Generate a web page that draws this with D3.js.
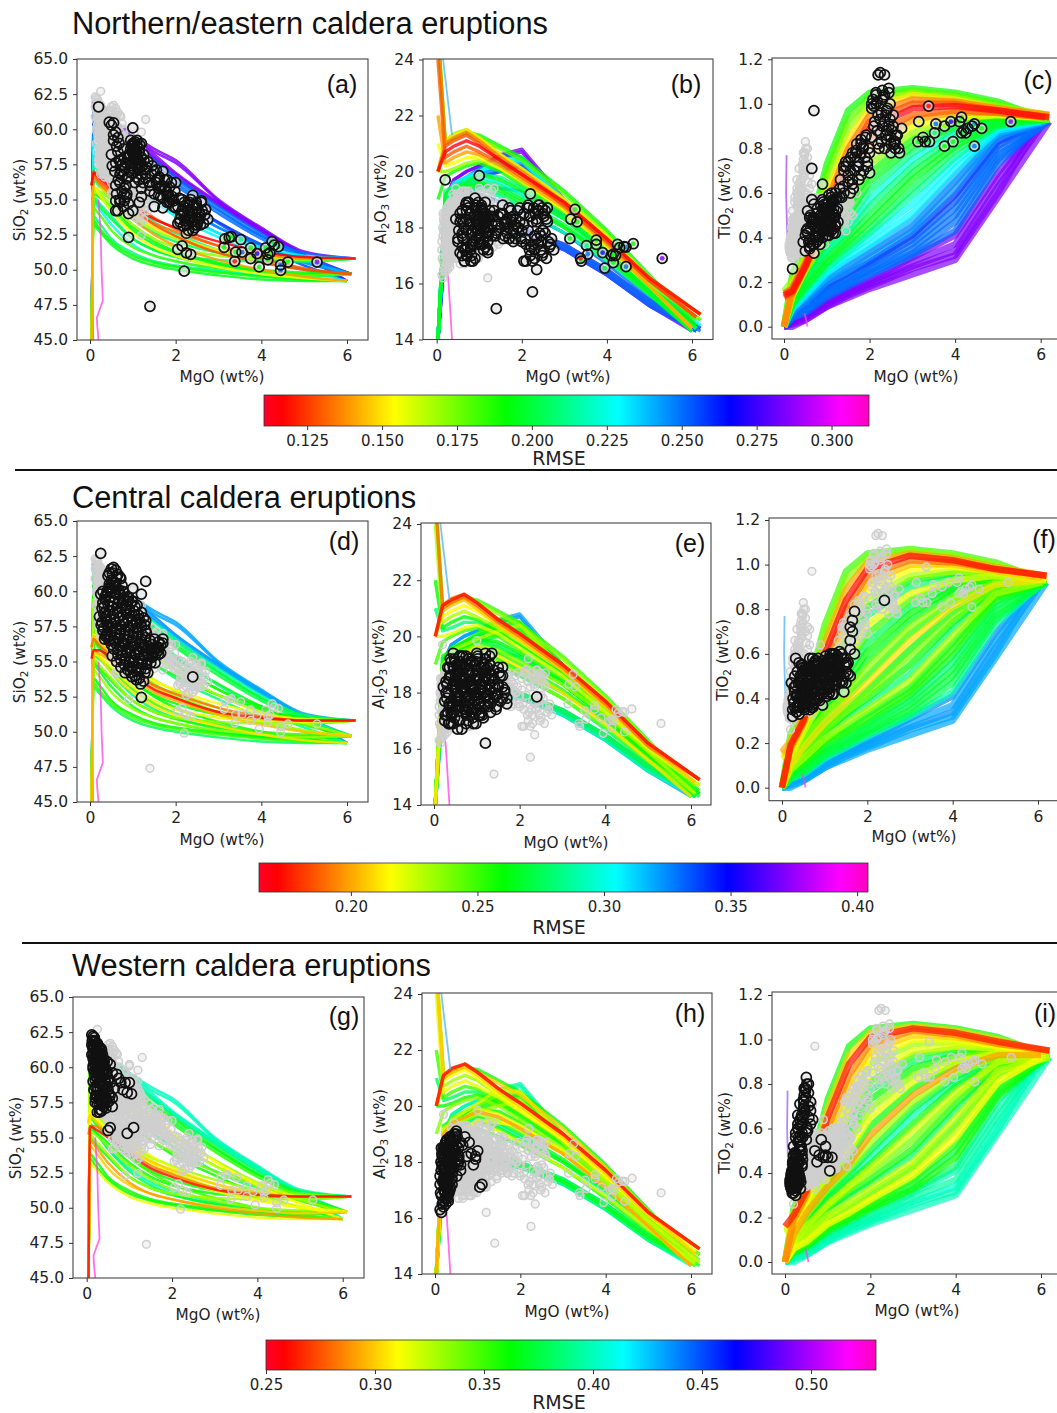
<!DOCTYPE html>
<html>
<head>
<meta charset="utf-8">
<script src="https://cdn.jsdelivr.net/npm/d3@7"></script>
<style>
  body { margin: 0; background: #fff; }
  text { font-family: "DejaVu Sans", sans-serif; fill: #222; }
  .title, .letter { font-family: "Liberation Sans", sans-serif; fill: #111; }
</style>
</head>
<body>
<div id="chart"></div>
<script>
// MgO positions shared by the model curves (first one is replaced by the model's own start)
const gridSiO2 = [6, 5, 4, 3, 2, 1.5, 1, 0.5, 0.2, 0.08, 0.04];
const gridAl2O3 = [6, 5, 4, 3, 2, 1.5, 1, 0.7, 0.4, 0.2, 0.03];
const gridTiO2 = [6, 5, 4, 3, 2, 1.5, 1, 0.5, 0.2, 0];

const modelStartMgO = [6, 6.1, 6.2, 6.2, 6.2, 6.1, 6.2, 6.1, 6, 6, 6.2, 6.1, 6, 6.1, 6, 6.2, 6.1, 6, 6.2, 6.1, 6.2, 6, 6.1, 6.2, 6.1, 6.1, 6, 6.1, 6.2, 6.1, 6.1, 6, 6, 6.1, 6, 6.2];

const modelSiO2 = [
  [49.2,49.3,49.5,49.8,50.2,50.5,51.0,52.0,53.0,53.5,44],
  [49.7,49.6,49.8,50.1,50.6,51.0,51.6,52.8,54.0,54.4,44],
  [50.8,50.8,50.9,51.3,52.2,52.8,53.8,55.0,55.6,55.8,44],
  [50.8,50.8,51.0,51.4,52.4,53.0,54.0,55.2,55.8,55.8,55.2],
  [50.8,50.8,51.1,51.7,52.7,53.3,54.2,55.4,56.2,56.6,56],
  [49.7,50.0,50.5,51.2,52.4,53.2,54.3,55.6,56.4,56.8,56],
  [50.8,50.9,51.3,52.0,53.0,53.6,54.6,55.8,56.6,56.9,56],
  [49.7,50.1,50.8,51.7,52.9,53.7,54.8,56.0,56.8,57.0,56],
  [49.2,49.5,50.0,50.7,51.7,52.5,53.6,55.2,56.2,56.6,44],
  [49.2,49.4,49.7,50.2,51.0,51.6,52.6,54.2,55.4,56.0,44],
  [50.8,50.7,50.8,51.0,51.6,52.2,53.2,54.6,55.4,55.6,44],
  [49.7,49.8,50.0,50.5,51.3,52.0,53.0,54.4,55.2,55.4,44],
  [49.2,49.2,49.3,49.6,50.0,50.3,50.8,51.8,52.8,53.2,44],
  [49.7,49.5,49.6,49.9,50.3,50.6,51.2,52.2,53.4,53.8,44],
  [49.2,49.3,49.6,50.0,50.6,51.0,51.8,53.2,54.4,54.8,44],
  [50.8,50.6,50.6,50.7,51.0,51.4,52.2,53.8,54.8,55.2,44],
  [49.7,49.7,49.9,50.3,50.9,51.4,52.2,53.6,54.6,55.0,44],
  [49.2,49.4,49.8,50.4,51.2,51.8,52.8,54.2,55.4,55.8,44],
  [50.8,50.6,50.8,51.2,52.0,52.6,53.6,55.0,56.0,56.4,44],
  [49.7,50.0,50.6,51.4,52.6,53.4,54.6,56.0,57.0,57.4,44],
  [50.8,51.0,51.6,52.6,54.0,54.8,56.0,57.4,58.4,59.0,44],
  [49.2,50.0,51.0,52.3,53.8,54.8,56.0,57.6,58.6,59.0,44],
  [49.7,50.6,51.4,52.6,54.4,55.4,56.6,58.0,59.0,59.4,44],
  [50.8,50.8,51.8,53.0,54.8,55.8,57.0,58.4,59.4,59.8,44],
  [49.7,50.5,51.6,53.0,54.8,56.0,57.4,58.8,59.6,60.0,44],
  [49.7,50.6,51.8,53.4,55.2,56.4,57.8,59.2,60.0,60.4,44],
  [49.2,50.3,51.6,53.3,55.4,56.6,58.0,59.4,60.2,60.6,44],
  [49.7,50.8,52.2,54.0,56.0,57.2,58.4,59.6,60.4,60.8,44],
  [50.8,51.2,52.4,54.2,56.2,57.4,58.6,59.8,60.6,61.0,44],
  [49.7,50.9,52.4,54.3,56.4,57.5,58.8,60.0,60.8,61.2,44],
  [49.7,51.0,52.6,54.5,56.6,57.8,59.0,60.2,61.0,61.4,44],
  [49.2,51.0,52.7,54.6,56.6,57.9,59.2,60.4,61.2,61.6,44],
  [49.2,51.0,52.8,54.7,56.8,58.0,59.3,60.5,61.3,61.7,44],
  [49.7,51.1,52.9,54.8,56.9,58.2,59.4,60.6,61.4,61.8,44],
  [49.2,51.0,52.9,54.9,57.6,58.4,59.5,60.7,61.5,61.9,44],
  [50.8,51.3,53.0,55.0,57.8,58.6,59.6,60.8,61.6,61.9,44]
];

const modelAl2O3 = [
  [14.7,16.3,17.9,19.3,20.5,20.9,21.3,21.4,21.2,21.1,25],
  [14.7,16.2,17.8,19.2,20.4,20.8,21.2,21.4,21.2,21.0,25],
  [14.9,16.2,17.7,19.0,20.1,20.6,21.2,21.5,21.35,21.1,20],
  [14.9,16.2,17.7,19.0,20.1,20.6,21.2,21.5,21.3,21.1,20],
  [14.9,16.1,17.6,18.9,20.0,20.5,21.1,21.4,21.2,21.0,25],
  [14.8,16.1,17.5,18.8,19.9,20.4,21.0,21.3,21.1,20.9,20],
  [14.9,16.2,17.6,18.9,19.9,20.4,20.9,21.1,20.9,20.7,20],
  [14.8,16.1,17.5,18.8,19.8,20.3,20.7,20.9,20.7,20.5,24],
  [14.4,15.9,17.4,18.7,19.7,20.2,20.6,20.7,20.5,20.3,22],
  [14.4,15.9,17.3,18.6,19.7,20.1,20.5,20.5,20.3,20.2,21],
  [14.7,16.0,17.3,18.6,19.6,20.1,20.4,20.3,20.1,20.0,20],
  [14.5,15.9,17.3,18.5,19.5,20.0,20.3,20.2,20.0,19.8,19],
  [14.3,15.7,17.1,18.3,19.3,19.7,19.9,19.6,19.4,19.2,14],
  [14.4,15.8,17.2,18.4,19.4,19.8,19.9,19.7,19.5,19.3,14],
  [14.3,15.7,17.1,18.3,19.2,19.6,19.8,19.6,19.4,19.0,14],
  [14.7,15.9,17.2,18.3,19.1,19.5,19.7,19.5,19.3,19.0,14],
  [14.4,15.7,17.0,18.1,19.0,19.4,19.6,19.5,19.2,18.8,14],
  [14.3,15.6,16.9,18.0,18.9,19.3,19.6,19.4,19.1,18.7,14],
  [14.7,15.8,17.0,18.0,18.8,19.2,19.5,19.3,19.0,18.5,14],
  [14.4,15.6,16.8,17.8,18.7,19.1,19.4,19.2,18.9,18.4,14],
  [14.5,16.0,17.5,19.0,20.5,20.4,20.0,19.8,19.6,19.0,14],
  [14.4,15.9,17.5,18.9,20.4,20.3,20.0,19.8,19.5,19.0,14],
  [14.4,15.9,17.4,18.9,20.4,20.2,19.9,19.7,19.5,18.9,14],
  [14.4,15.9,17.4,18.9,20.5,20.6,20.1,19.8,19.5,19.0,14],
  [14.4,15.9,17.4,18.8,20.3,20.1,19.9,19.6,19.3,18.8,14],
  [14.3,15.8,17.3,18.7,20.2,20.0,19.8,19.5,19.2,18.7,14],
  [14.3,15.7,17.1,18.4,19.3,19.4,19.5,19.2,19.0,18.6,14],
  [14.3,15.5,16.7,17.8,18.6,18.9,19.2,19.0,18.8,18.2,14],
  [14.3,15.4,16.5,17.4,18.0,18.2,18.5,18.6,18.4,18.0,14],
  [14.4,15.3,16.4,17.3,17.9,18.0,18.3,18.4,18.2,17.8,14],
  [14.3,15.2,16.3,17.2,17.8,17.9,18.1,18.2,18.0,17.6,14],
  [14.3,15.9,17.4,18.9,20.7,20.5,20.2,20.0,19.7,19.0,14],
  [14.3,16.0,17.5,19.0,20.8,20.6,20.2,20.0,19.7,19.0,14],
  [14.3,15.3,16.4,17.3,17.9,18.0,18.2,18.2,18.0,17.6,14],
  [14.3,15.2,16.3,17.2,17.8,17.9,18.0,18.0,17.8,17.4,14],
  [14.4,15.4,16.5,17.4,18.0,18.0,18.1,18.0,17.8,17.4,14]
];

const modelTiO2 = [
  [.94,1.01,1.05,1.07,1.05,.97,.73,.36,.24,0],
  [.94,1.00,1.04,1.06,1.03,.93,.69,.34,.22,0],
  [.95,.99,1.03,1.05,1.01,.89,.65,.32,.21,.16],
  [.95,.98,1.02,1.04,.98,.84,.60,.30,.19,0],
  [.95,.98,1.01,1.02,.95,.80,.56,.29,.18,0],
  [.94,.97,1.00,1.00,.92,.76,.53,.28,.17,.15],
  [.94,.97,.99,.98,.89,.72,.50,.27,.16,.14],
  [.94,.96,.97,.95,.85,.68,.47,.27,.15,.13],
  [.94,.96,.96,.93,.81,.65,.45,.26,.15,0],
  [.94,.95,.94,.90,.77,.61,.43,.26,.14,0],
  [.93,.95,.93,.87,.73,.57,.41,.25,.14,0],
  [.93,.94,.92,.84,.69,.54,.40,.25,.13,0],
  [.93,.94,.90,.81,.65,.50,.38,.24,.13,0],
  [.93,.93,.89,.78,.61,.47,.36,.24,.12,0],
  [.93,.93,.87,.75,.57,.44,.34,.22,.12,0],
  [.93,.92,.85,.72,.54,.42,.33,.21,.11,0],
  [.93,.92,.83,.69,.50,.40,.31,.20,.11,0],
  [.93,.91,.81,.66,.47,.38,.29,.18,.10,0],
  [.93,.90,.79,.62,.44,.36,.28,.17,.10,0],
  [.93,.90,.76,.59,.42,.34,.26,.16,.09,0],
  [.93,.89,.74,.55,.40,.33,.25,.15,.09,0],
  [.92,.88,.71,.51,.37,.31,.24,.14,.08,0],
  [.92,.87,.68,.48,.35,.29,.22,.13,.08,0],
  [.92,.86,.65,.45,.33,.27,.21,.12,.07,0],
  [.92,.85,.62,.43,.31,.25,.20,.11,.07,0],
  [.92,.83,.59,.41,.29,.24,.18,.10,.06,0],
  [.92,.81,.56,.39,.28,.22,.17,.09,.06,0],
  [.92,.79,.53,.37,.26,.21,.16,.08,.05,0],
  [.92,.77,.50,.35,.25,.20,.15,.07,.05,0],
  [.92,.75,.47,.33,.24,.19,.14,.07,.04,0],
  [.92,.73,.43,.32,.23,.18,.13,.06,.04,0],
  [.92,.69,.41,.31,.21,.17,.12,.05,.03,0],
  [.92,.66,.37,.29,.20,.16,.11,.05,.02,0],
  [.92,.63,.34,.27,.19,.15,.10,.04,.02,0],
  [.92,.60,.32,.26,.18,.14,.09,.03,.01,0],
  [.92,.58,.30,.235,.17,.13,.09,.03,0,0]
];

// RMSE of each model for each caldera group
const rmseNorth = [.19,.18,.17,.15,.135,.128,.115,.13,.14,.155,.17,.19,.195,.21,.225,.21,.20,.195,.205,.215,.23,.23,.24,.25,.245,.26,.255,.25,.25,.25,.252,.285,.285,.285,.285,.285];
const rmseCentral = [.25,.235,.20,.172,.19,.205,.215,.23,.26,.28,.22,.25,.275,.26,.265,.235,.255,.21,.26,.24,.26,.28,.23,.26,.255,.265,.285,.27,.27,.275,.29,.325,.32,.325,.32,.32];
const rmseWestern = [.36,.30,.262,.285,.30,.31,.33,.315,.35,.38,.36,.335,.315,.36,.29,.33,.37,.40,.36,.32,.34,.36,.385,.32,.35,.33,.31,.355,.375,.36,.385,.40,.395,.405,.40,.40];

// the odd low-MgO traces
const pinkMgO = [.2, .17, .16, .3, .27, .25, .2];
const pinkSiO2 = [45, 46, 46.6, 47.8, 50, 52.5, 55];
const pinkAlMgO = [.36, .3, .27, .2];
const pinkAl2O3 = [14, 15.5, 16.2, 16.8];
const pinkTiMgO = [.48, .52, .55];
const pinkTiO2 = [.06, .03, 0];
const spurTiMgO = [.06, .05, .06, .08];
const spurTiO2 = [.77, .6, .52, .4];
const spurAlMgO = [.36, .15, .1];
const spurAl2O3 = [21.3, 24, 25];

// Northern/eastern samples
const northMgO = [
  5.30,4.62,4.45,4.45,4.40,4.30,4.25,4.20,4.15,4.15,
  4.10,3.95,3.90,3.75,3.75,3.55,3.52,3.40,3.38,3.30,
  3.25,3.15,3.13,2.35,2.25,2.20,2.15,2.05,1.40,.90,
  .70,.65,.20,1.00,
  .45,.5,.55,.6,.65,.5,.55,.6,.65,.7,
  .75,.8,.85,.9,.95,1,1.05,1.1,1.15,1.2,
  .7,.8,.85,.95,1,1.05,1.1,1.15,1.2,1.25,
  .6,.7,.8,.9,1,1.1,1.2,1.3,.75,1.15,
  1.3,1.35,1.4,1.45,1.5,1.55,1.6,1.65,1.7,1.75,
  1.8,1.85,1.9,1.95,2,1.4,1.5,1.6,1.7,1.8,1.9,2,
  2.05,2.1,2.15,2.2,2.25,2.3,2.35,2.4,2.45,2.5,
  2.55,2.6,2.65,2.7,2.75,2.1,2.2,2.3,2.4,2.5,
  2.6,2.15,2.25,2.35,2.45,2.55,2.05,2.3,2.4,2.5,
  .55,.62,.68,.72,.78,.82,.88,.92,.98,1.02,
  .58,.66,.74,.86,.94,1.04,1.08,1.12,1.18,1.22,
  .6,.7,.8,.9,1,1.1,1.2,1.05,1.1,1.15,
  .62,.72,.78,.84,.96,1.02,1.08,1.14,1.2,1.26,
  .52,.6,.68,.76,.84,.92,1,1.08,1.16,1.24,
  .95,1,1.05,1.1,1.15,1.2,.9,.98,1.06,1.12,
  1.32,1.38,1.44,1.5,1.56,1.62,1.68,1.74,1.8,1.86,
  1.92,1.98,1.55,1.65,1.75,1.85,1.95,1.6,1.7,1.8,
  2.08,2.18,2.28,2.38,2.48,2.58,2.12,2.22,2.32,2.42,
  2.52,2.62,2.18,2.28,2.38,2.48,2.58,2.68,2.35,2.45
];
const northSiO2 = [
  50.55,50.55,50.35,49.95,51.65,51.75,52.00,51.20,51.10,50.70,
  51.55,50.20,51.15,51.55,50.80,51.25,52.15,51.25,50.60,52.35,
  52.30,52.20,51.60,51.10,51.20,49.90,51.70,51.45,47.40,52.30,
  55.00,54.20,61.60,60.10,
  60.5,60.3,60.45,59.8,59.4,58.2,59.2,57.6,58.4,54.8,
  57.5,55.8,56.5,54.7,59.2,59,58.6,59.2,58.4,59.0,
  56.8,58,55.2,57.4,58.4,56.2,58,57.2,55.8,58.2,
  54.2,55,54.9,54.0,54.2,57.6,55.2,57.1,55.6,54.8,
  56.5,57.7,56,57.4,55.4,57.1,56.5,55.2,57,55.9,
  56.4,54.8,56.2,54.5,56.2,55.6,54.5,55.8,54.4,55.3,55,54.4,
  54.5,53.6,55,54,53.2,54.6,53.8,55.3,53,54.4,
  53.6,54.8,53.3,54.3,53.6,53.4,54.8,52.8,54,53.2,
  54.9,54.2,52.6,55,53.5,54.1,53.3,54.2,52.8,53.7,
  59.6,58.8,59,57.8,58.6,57.2,58,57,58.9,58.6,
  57,56.4,57,55.4,58.2,58.1,58.4,57.9,57.6,57.4,
  56,56.2,55.4,56.6,57.8,57.2,58,59.1,58.8,58.6,
  55.4,57.4,54.5,56,56.9,59,56.6,56.4,56.8,57.8,
  57.4,54.9,57.8,56.7,57.6,58.2,57.2,58.2,58.9,56.2,
  58.6,58.3,58,57.8,57.6,57.3,58.2,58.8,57.5,57.1,
  57.3,56.2,56.8,57,56.4,56.6,56,56.4,55.5,55.9,
  55.2,55.6,56.2,55.9,55.7,55.2,54.9,55.3,55.1,54.8,
  55.1,54.5,53.9,53.4,54.8,53.9,53.9,53.5,54.8,54.6,
  53.4,54.2,53.1,53.6,54.2,54.6,53.2,53.9,53.7,53.2
];
const northAl2O3 = [
  16.90,17.42,16.60,17.30,17.32,17.28,17.40,17.00,16.75,17.05,
  17.00,16.55,17.10,17.55,17.40,17.05,17.35,16.80,16.90,18.20,
  18.65,18.30,17.60,16.50,15.70,19.20,18.80,16.80,15.10,19.05,
  17.00,16.80,19.70,19.85,
  18.3,17.6,17.1,17,18,17.5,18.2,17.3,16.8,17.9,
  18.9,16.8,17.4,18.7,17.9,18.4,18.0,17.2,18.5,17.5,
  18.6,17.3,16.8,18.1,17.6,18.8,18.3,17.8,17.1,18.6,
  17.8,18.3,17.2,16.9,17.4,18.5,18,17.7,18.9,18.2,
  18.1,18.6,17.9,18.4,18,18.8,17.7,18.3,17.6,18.2,
  17.5,18.1,18.6,18.7,17.9,17.8,18.5,18.2,17.6,18.4,18,17.5,
  18.5,17.4,18.7,17,18.2,16.9,17.6,18.8,17.2,18.5,
  17.8,18.7,17.3,17.6,17.2,16.8,18.4,17.7,18.6,17.1,
  18.2,17.9,16.8,18.3,17.5,18.6,18.1,17.2,18.8,17.9,
  18.5,17.6,18.8,17.3,18.1,17,18.4,17.6,18.9,17.8,
  18.3,17.2,18.7,17.5,18.2,17.4,18.6,18,18.2,17.8,
  17.7,18.9,17.4,18,18.3,17.5,18.4,18.7,18.1,17.3,
  18.2,17,18.5,17.9,18.6,17.7,18.4,18.9,17.2,18.4,
  17.9,18.6,17.2,18.2,17.8,18.8,18.1,17.4,18.4,17.9,
  18.5,17.4,18.7,18.2,18.4,17.7,18.3,17.9,18.6,18,
  18.4,17.7,18.1,18.5,17.6,18.2,18,18.6,17.8,18.3,
  18,17.6,18.5,17.8,18.3,17.6,18.2,18.1,18.7,17.9,
  17.6,18.4,17.4,18.6,17,18.3,18.7,17.3,18.5,17.8,
  18.4,17.5,17.2,18.7,17.4,18.7,16.9,17.4,18.2,17.7
];
const northTiO2 = [
  .92,.89,.81,.91,.90,.89,.87,.88,.94,.87,
  .92,.83,.92,.81,.90,.91,.87,.83,.99,.83,
  .85,.92,.83,1.13,1.14,1.13,1.05,1.00,.72,.64,
  .97,.71,.26,.55,
  .38,.34,.44,.49,.57,.41,.52,.36,.47,.55,
  .40,.45,.50,.57,.43,.48,.52,.58,.44,.50,
  .37,.42,.47,.53,.46,.41,.55,.49,.60,.53,
  .39,.33,.44,.40,.50,.46,.42,.58,.48,.56,
  .62,.58,.70,.72,.65,.60,.78,.70,.82,.74,
  .68,.80,.85,.72,.78,.60,.74,.66,.72,.84,.76,.69,
  .98,.90,1.04,.95,.87,1.06,.92,.84,1.07,.85,
  .90,.80,.86,.78,.89,.99,.82,1.02,.88,.78,
  .83,1.00,.93,.80,1.05,.95,.85,.90,.97,.82,
  .42,.50,.37,.45,.53,.41,.49,.56,.44,.51,
  .38,.46,.41,.54,.47,.43,.50,.56,.49,.52,
  .36,.48,.39,.44,.50,.54,.46,.59,.48,.42,
  .44,.40,.51,.37,.47,.55,.45,.51,.57,.47,
  .43,.35,.49,.38,.46,.52,.41,.47,.53,.58,
  .55,.44,.50,.43,.57,.45,.47,.53,.44,.60,
  .66,.63,.74,.68,.76,.62,.79,.72,.78,.70,
  .86,.80,.70,.76,.66,.81,.74,.64,.78,.82,
  1.02,.88,.96,.86,.93,.83,.92,.80,1.03,.98,
  .88,.86,1.01,.83,.95,1.00,.82,.80,1.04,.90
];
// colour of the best-fit dot inside the isolated north samples
const northFit = [.285,.19,.25,.25,.2,.22,.195,.18,.19,.2,.19,.195,.27,.19,.17,.25,.21,.2,.118,.195,.19,.155,.19];

// Central samples
const centralMgO = [
  .45,.5,.55,.6,.65,.7,.45,.5,.6,.75,
  .4,.5,.6,.7,.8,.9,.35,.45,.55,.65,
  .75,.85,.95,1.05,.35,.45,.55,.65,.75,.85,
  .95,1.05,1.15,1.25,.4,.5,.6,.7,.8,.9,
  1,1.1,1.2,1.3,.4,.5,.6,.7,.8,.9,
  1,1.1,1.2,1.3,1.4,1.5,1.6,1.7,.5,.6,
  .7,.8,.9,1,1.1,1.2,1.3,1.4,1.5,1.6,
  .65,.75,.85,.95,1.05,1.15,1.25,1.35,1.45,.8,
  .9,1,1.1,1.2,1.3,.95,1.05,1.15,1.25,1.35,
  1.2,2.4,.25,1.3,1,1.2,.3,1.6,1.65,1.7,
  .42,.52,.62,.72,.47,.57,.67,.77,.87,.37,
  .48,.58,.68,.78,.88,.98,.33,.43,.53,.63,
  .73,.83,.93,1.03,1.13,.38,.48,.58,.68,.78,
  .88,.98,1.08,1.18,1.28,.42,.52,.62,.72,.82,
  .92,1.02,1.12,1.22,1.32,.46,.56,.66,.76,.86,
  .96,1.06,1.16,1.26,1.36,1.46,.55,.65,.75,.85,
  .95,1.05,1.15,1.25,1.35,1.45,1.55,.72,.82,.92,
  1.02,1.12,1.22,1.32,1.42,1.52,.88,.98,1.08,1.18,
  1.28,.98,1.08,1.18,.28,.32,.36,.4,.28,.32,
  .36,.44,.48,.3,.34,.38,.52,.62,.72,.82,
  .25,.3,.35,.4,.45,.5,.55,.6,.22,.26,
  1.4,1.45,1.5,1.55,1.6,1.65,1.3,1.2,1.1,1.0
];
const centralSiO2 = [
  61.3,61.6,61.7,61.5,61.2,61,60.5,60.8,60.6,60.4,
  60,60,59.9,59.8,59.9,59.6,59.4,59.3,59.2,59.1,
  59.2,59,59.1,58.9,58.5,58.6,58.4,58.5,58.3,58.4,
  58.2,58.3,58,58.1,57.8,57.7,57.8,57.6,57.7,57.5,
  57.6,57.4,57.5,57.2,57,57.1,56.9,57,56.8,56.9,
  56.7,56.8,56.6,56.7,56.5,56.6,56.4,56.3,56.2,56.3,
  56.1,56.2,56,56.1,55.9,56,55.8,55.9,55.7,55.5,
  55.5,55.4,55.6,55.3,55.5,55.2,55.4,55.1,55.3,54.8,
  54.7,54.9,54.6,54.8,54.5,54.2,54,53.8,53.6,54.2,
  52.45,53.9,62.7,60.7,60.2,59.8,60,56,56.2,56.6,
  61.1,61.3,61,60.9,60.2,60.4,60.1,60,59.6,59.7,
  59.6,59.5,59.3,59.5,59.3,59.3,58.9,59,58.9,58.8,
  58.8,58.7,58.6,58.6,58.3,58.2,58.1,58,58.1,57.9,
  58,57.9,57.8,57.7,57.6,57.5,57.4,57.3,57.3,57.2,
  57.2,57.1,57.1,56.9,57,56.6,56.5,56.6,56.4,56.5,
  56.4,56.3,56.3,56.2,56.1,56.2,55.9,55.8,55.8,55.7,
  55.7,55.6,55.7,55.5,55.5,55.4,55.6,55.1,55.2,55,
  55.1,54.9,55,54.8,54.9,54.9,54.4,54.5,54.3,54.4,
  54.2,53.9,53.7,53.4,58.8,58.4,58,57.6,57.8,57.4,
  56.8,56.5,56.8,57.2,56.6,56.9,55.4,55,54.6,54.2,
  59.8,59.2,59.6,59.9,60.3,60.2,60.7,60.3,58.2,57.6,
  55.8,55.6,55.9,56,55.8,55.6,57.9,58.5,59,59.3
];
const centralAl2O3 = [
  18.2,17.4,18.8,17.9,19,18.5,16.9,17.7,18.3,19.3,
  17.3,18.6,17,18.1,19.2,18.7,17.6,18.9,16.7,18.4,
  17.8,19.1,18,17.2,18.5,19.4,17.5,18.8,16.9,18.2,
  19,17.6,18.4,17.9,16.9,18.3,19.3,17.4,18.7,18.1,
  19.4,17.3,18.6,17.8,19.1,18.2,17.7,18.9,18.4,17.1,
  18.8,17.7,19.2,18.3,17.8,18.9,18.2,17.6,18.4,19.3,
  18,17.5,19.1,18.6,18.3,17.9,19,18.5,18.2,17.8,
  16.7,17.2,18.4,19,18,18.7,17.7,18.6,17.5,17,
  18.3,17.4,18.9,19.2,18.1,18.6,17.6,18.4,17.9,19.4,
  16.2,17.85,17,19.3,18.5,19.4,17.2,18.9,18,17.8,
  17.6,18.4,19.1,17.5,18.9,17.8,18.2,19,17.3,18.6,
  17.1,18.7,19.3,17.7,18.2,16.9,18,17.5,19,18.3,
  17.4,18.8,17.9,18.5,17.2,19.2,18.1,17,18.6,17.9,
  18.3,19.1,17.5,18,18.7,17.2,18.5,19,18.2,17.6,
  17.4,19.2,18.1,18.8,17.6,18.4,17.9,19.3,17.3,18.6,
  18.2,17.8,19,17.5,18.4,17.9,18.7,18.1,17.4,19.1,
  17.7,18.5,17.1,18.9,18,17.4,18.6,18.3,17.9,16.9,
  19.3,18.2,18.8,17.3,18.2,18.7,17.8,18.4,17.2,18.9,
  18.5,19,18.1,17.5,18,17.3,18.9,17.7,18.4,18.9,
  17.5,18.2,19.2,17.8,16.9,18.6,17.7,18.9,18.2,17.4,
  17.7,18.3,16.9,18.6,17.3,19.1,18,17.5,18.2,17.2,
  18.8,17.9,18.3,17.7,18.6,18.1,19,18.5,18.2,17.9
];
const centralTiO2 = [
  .55,.54,.52,.47,.58,.50,.42,.48,.53,.56,
  .40,.45,.50,.43,.57,.52,.36,.41,.46,.49,
  .53,.47,.51,.55,.34,.39,.44,.48,.52,.56,
  .50,.54,.58,.60,.33,.37,.42,.46,.50,.45,
  .55,.48,.52,.57,.38,.42,.40,.36,.47,.53,
  .43,.58,.48,.54,.60,.52,.62,.60,.41,.46,
  .37,.49,.44,.55,.50,.42,.59,.48,.56,.50,
  .35,.40,.51,.44,.46,.57,.53,.47,.43,.39,
  .49,.55,.42,.46,.52,.37,.41,.58,.53,.61,
  .50,.84,.32,.55,.56,.60,.36,.66,.75,.79,
  .50,.44,.51,.58,.46,.53,.39,.44,.50,.37,
  .44,.39,.52,.55,.46,.57,.41,.47,.35,.51,
  .43,.48,.54,.49,.60,.37,.52,.44,.40,.57,
  .42,.53,.47,.56,.50,.47,.36,.54,.43,.51,
  .46,.59,.45,.53,.57,.50,.42,.38,.55,.40,
  .49,.44,.56,.48,.52,.55,.53,.46,.38,.58,
  .42,.56,.50,.46,.54,.58,.51,.36,.45,.53,
  .49,.43,.57,.52,.47,.55,.39,.50,.44,.60,
  .54,.48,.53,.42,.38,.46,.52,.36,.45,.58,
  .41,.49,.55,.43,.34,.47,.44,.37,.52,.41,
  .35,.50,.42,.56,.46,.38,.54,.44,.47,.40,
  .58,.50,.47,.56,.72,.70,.51,.60,.46,.53
];

// Western samples
const westernMgO = [
  .12,.15,.18,.2,.22,.25,.28,.3,.32,.35,
  .12,.15,.18,.2,.22,.25,.28,.3,.33,.36,
  .15,.18,.2,.22,.25,.28,.3,.33,.36,.4,
  .15,.2,.25,.3,.35,.4,.45,.5,.55,.6,
  .2,.25,.3,.35,.4,.45,.5,.55,.6,.65,
  .7,.75,.8,.85,.9,.95,1,1.05,.5,.55,
  .95,1.1,.3,.6,
  .13,.16,.19,.22,.25,.28,.31,.34,.37,.4,
  .14,.17,.2,.23,.26,.29,.32,.35,.38,.41,
  .12,.16,.2,.24,.28,.32,.36,.4,.44,.48,
  .15,.19,.23,.27,.31,.35,.39,.43,.47,.51,
  .2,.24,.28,.32,.36,.4,.44,.48,.52,.56,
  .17,.21,.25,.29,.33,.37,.41,.45,.49,.53,
  .25,.3,.35,.4,.45,.3,.35,.25,.2,.4
];
const westernSiO2 = [
  62.3,62.2,62.1,61.8,61.5,61.7,61.3,61.4,61,61.2,
  60.9,60.6,60.3,61,60.7,60.4,60.8,60.5,60.7,60.3,
  59.9,59.6,60.1,59.8,60,59.7,59.9,60.2,59.6,59.8,
  59,58.6,59.2,58.9,59.1,58.7,59.5,59,60.2,59.6,
  57.5,57.9,58,57.6,58.2,57.8,58.4,58,57.8,58.5,
  59.5,59.2,58.9,58.4,58.9,58.2,58.9,58.1,55.5,55.7,
  55.3,55.7,56.8,57.2,
  61.9,61.6,61.9,61.2,61,61.5,60.9,61.3,60.9,60.6,
  61.4,61.3,60.8,61.2,60.6,60.9,60.4,60.7,60.2,60.4,
  61.6,60.9,60.5,60.2,60.3,60.6,60.1,60.2,59.9,60.4,
  60.1,59.4,59.6,59.5,59.7,59.3,59.5,59.2,59.7,59.2,
  59.1,58.6,58.9,58.4,58.7,58.2,58.9,58.6,58.1,58.9,
  58.4,58,58.3,57.7,58.1,57.7,57.9,57.6,57.5,57.6,
  57.4,57,57.3,57.2,57.1,57.4,56.9,56.8,57.8,58
];
const westernAl2O3 = [
  17.5,16.8,17.9,18.4,17.2,16.5,18,17.4,18.6,17,
  16.3,17.7,18.2,16.6,17.6,18.7,17.1,18.3,16.9,17.8,
  18.5,17.3,16.4,18.1,17.5,18.8,16.7,17.9,18.4,17.2,
  16.2,17,17.6,18.2,18.9,17.4,18.5,19,18.1,17.7,
  17.3,18.4,16.8,18.8,17.8,18.2,19.1,18.5,17.9,18.6,
  18.9,18.2,18.7,18.3,17.9,18.2,18.4,17.1,18.6,18,
  18.1,17.2,16.9,18.7,
  16.9,17.9,18.5,17,17.8,18.3,16.6,17.5,18.9,18.2,
  18,16.5,17.4,18.6,17.1,17.7,18.1,18.7,17.4,18.5,
  17.2,18.3,17.8,16.7,18.4,17.2,18.8,17.9,18.4,19,
  17.7,18.1,16.9,17.3,18.6,17.7,18.3,18.9,18,17.5,
  16.6,18.5,17.5,18,17.1,18.7,17.8,18.4,18.9,18.2,
  18.2,17.4,18.7,17,17.9,18.4,17.6,19,18.3,17.9,
  17.2,18.1,17.6,18.5,18.8,17.3,18,16.7,17.8,18.3
];
const westernTiO2 = [
  .36,.33,.40,.44,.38,.30,.47,.42,.35,.50,
  .37,.34,.45,.39,.43,.48,.36,.41,.46,.33,
  .40,.44,.37,.42,.49,.35,.46,.39,.55,.44,
  .33,.52,.58,.66,.71,.62,.75,.83,.80,.68,
  .48,.56,.60,.52,.65,.78,.58,.70,.62,.64,
  .50,.45,.48,.55,.47,.52,.47,.41,.55,.76,
  .48,.47,.62,.72,
  .34,.41,.37,.46,.32,.38,.44,.50,.36,.43,
  .39,.31,.35,.42,.47,.34,.40,.37,.52,.46,
  .35,.38,.33,.41,.45,.37,.57,.62,.72,.78,
  .33,.36,.49,.42,.60,.52,.66,.73,.68,.80,
  .31,.40,.45,.56,.63,.58,.70,.77,.60,.65,
  .37,.43,.34,.48,.54,.61,.56,.67,.74,.59,
  .47,.44,.64,.48,.69,.54,.38,.41,.36,.50
];

const xTicks = [0, 2, 4, 6];
const siTicks = [45, 47.5, 50, 52.5, 55, 57.5, 60, 62.5, 65];
const alTicks = [14, 16, 18, 20, 22, 24];
const tiTicks = [0, 0.2, 0.4, 0.6, 0.8, 1.0, 1.2];

const cbarTicksNorth = [.125, .15, .175, .2, .225, .25, .275, .3];
const cbarTicksCentral = [.2, .25, .3, .35, .4];
const cbarTicksWestern = [.25, .3, .35, .4, .45, .5];

// gist_rainbow
const rainbowStops = [0, .03, .215, .4, .586, .77, .954, 1];
const rainbowColors = ["#ff0029", "#ff0000", "#ffff00", "#00ff00", "#00ffff", "#0000ff", "#ff00ff", "#ff00bf"];
const rainbow = d3.scaleLinear().domain(rainbowStops).range(rainbowColors);

const svg = d3.select("#chart").append("svg")
  .attr("width", 1057).attr("height", 1413).style("display", "block");
const defs = svg.append("defs");

const rows = [
  {
    title: "Northern/eastern caldera eruptions", titleY: 34,
    mgo: northMgO, si: northSiO2, al: northAl2O3, ti: northTiO2, fit: northFit,
    rmse: rmseNorth, vmin: .1106, vmax: .3125, ticks: cbarTicksNorth, fmt: ".3f",
    bar: { x0: 264, x1: 869, y0: 395, y1: 426, labelY: 465 },
    spurColor: "#a24bf0",
    panels: [
      { letter: "(a)", el: "si", left: 77, right: 368, top: 59, bottom: 340, x0: 90, x6: 347, y0: 340, y1: 59, lx: 222, ly: 382, ty: 25, tc: 200, lettX: 327, lettY: 93 },
      { letter: "(b)", el: "al", left: 423, right: 713, top: 59, bottom: 339.5, x0: 436.7, x6: 692, y0: 339.5, y1: 59.5, lx: 568, ly: 382, ty: 386, tc: 199, lettX: 671, lettY: 93 },
      { letter: "(c)", el: "ti", left: 772, right: 1062, top: 58, bottom: 339, x0: 784, x6: 1040.7, y0: 326.7, y1: 59.3, lx: 916, ly: 382, ty: 730, tc: 198, lettX: 1023, lettY: 89 }
    ]
  },
  {
    title: "Central caldera eruptions", titleY: 508,
    mgo: centralMgO, si: centralSiO2, al: centralAl2O3, ti: centralTiO2, fit: [],
    rmse: rmseCentral, vmin: .1637, vmax: .4043, ticks: cbarTicksCentral, fmt: ".2f",
    bar: { x0: 259, x1: 868, y0: 863, y1: 892, labelY: 934 },
    spurColor: "#4ab4f0",
    panels: [
      { letter: "(d)", el: "si", left: 77, right: 368, top: 521, bottom: 802, x0: 90, x6: 347, y0: 802, y1: 521, lx: 222, ly: 845, ty: 25, tc: 662, lettX: 329, lettY: 550 },
      { letter: "(e)", el: "al", left: 421, right: 711, top: 523, bottom: 805, x0: 434, x6: 691, y0: 805, y1: 524, lx: 566, ly: 848, ty: 384, tc: 664, lettX: 675, lettY: 552 },
      { letter: "(f)", el: "ti", left: 769, right: 1062, top: 518, bottom: 800.7, x0: 782, x6: 1038, y0: 787.7, y1: 520, lx: 914, ly: 842, ty: 728, tc: 660, lettX: 1029, lettY: 548 }
    ]
  },
  {
    title: "Western caldera eruptions", titleY: 976,
    mgo: westernMgO, si: westernSiO2, al: westernAl2O3, ti: westernTiO2, fit: [],
    rmse: rmseWestern, vmin: .25, vmax: .5298, ticks: cbarTicksWestern, fmt: ".2f",
    bar: { x0: 266, x1: 876, y0: 1340, y1: 1370, labelY: 1409 },
    spurColor: "#9a60f0",
    panels: [
      { letter: "(g)", el: "si", left: 73, right: 364, top: 997, bottom: 1278, x0: 86.7, x6: 342.7, y0: 1278, y1: 997, lx: 218, ly: 1320, ty: 21, tc: 1138, lettX: 329, lettY: 1025 },
      { letter: "(h)", el: "al", left: 422, right: 712, top: 993, bottom: 1274, x0: 435, x6: 691, y0: 1274, y1: 994, lx: 567, ly: 1317, ty: 385, tc: 1134, lettX: 675, lettY: 1022 },
      { letter: "(i)", el: "ti", left: 772, right: 1062, top: 992, bottom: 1274, x0: 785, x6: 1041, y0: 1262, y1: 995, lx: 917, ly: 1316, ty: 730, tc: 1133, lettX: 1030, lettY: 1022 }
    ]
  }
];

const elements = {
  si: { domain: [45, 65], ticks: siTicks, fmt: ".1f", models: modelSiO2, grid: gridSiO2, width: 2.5, opacity: 0.85, curve: d3.curveMonotoneX, label: ["SiO", "2", " (wt%)"] },
  al: { domain: [14, 24], ticks: alTicks, fmt: "d", models: modelAl2O3, grid: gridAl2O3, width: 3.4, opacity: 0.8, curve: d3.curveLinear, label: ["Al", "2", "O", "3", " (wt%)"] },
  ti: { domain: [0, 1.2], ticks: tiTicks, fmt: ".1f", models: modelTiO2, grid: gridTiO2, width: 6.5, opacity: 0.7, curve: d3.curveLinear, label: ["TiO", "2", " (wt%)"] }
};

const groups = [
  { mgo: northMgO, si: northSiO2, al: northAl2O3, ti: northTiO2 },
  { mgo: centralMgO, si: centralSiO2, al: centralAl2O3, ti: centralTiO2 },
  { mgo: westernMgO, si: westernSiO2, al: westernAl2O3, ti: westernTiO2 }
];

function drawPanel(row, rowIndex, p, panelIndex) {
  const el = elements[p.el];
  const x = d3.scaleLinear().domain([0, 6]).range([p.x0, p.x6]);
  const y = d3.scaleLinear().domain(el.domain).range([p.y0, p.y1]);
  const color = v => rainbow((v - row.vmin) / (row.vmax - row.vmin));
  const clipId = `clip-${rowIndex}-${panelIndex}`;

  defs.append("clipPath").attr("id", clipId).append("rect")
    .attr("x", p.left).attr("y", p.top)
    .attr("width", p.right - p.left).attr("height", p.bottom - p.top);

  const plot = svg.append("g").attr("clip-path", `url(#${clipId})`);
  const line = d3.line().x(d => x(d[0])).y(d => y(d[1])).curve(el.curve);

  // worst fits first so the red curves end up on top
  const order = d3.range(el.models.length).sort((a, b) => d3.descending(row.rmse[a], row.rmse[b]));
  plot.selectAll("path.model").data(order).enter().append("path")
    .attr("class", "model")
    .attr("fill", "none")
    .attr("stroke", i => color(row.rmse[i]))
    .attr("stroke-width", el.width)
    .attr("stroke-opacity", el.opacity)
    .attr("stroke-linejoin", "round")
    .attr("d", i => line(el.models[i].map((v, k) => [k === 0 ? modelStartMgO[i] : el.grid[k], v])));

  const straight = d3.line().x(d => x(d[0])).y(d => y(d[1]));
  const trace = (xs, ys, stroke) => plot.append("path")
    .attr("fill", "none").attr("stroke", stroke).attr("stroke-width", 1.8).attr("stroke-opacity", 0.75)
    .attr("d", straight(xs.map((v, k) => [v, ys[k]])));
  if (p.el === "si") trace(pinkMgO, pinkSiO2, "#ff40e0");
  if (p.el === "al") { trace(pinkAlMgO, pinkAl2O3, "#ff40e0"); trace(spurAlMgO, spurAl2O3, "#4ab4f0"); }
  if (p.el === "ti") { trace(pinkTiMgO, pinkTiO2, "#ff40e0"); trace(spurTiMgO, spurTiO2, row.spurColor); }

  // everybody else's samples in grey
  const others = [];
  groups.forEach((g, gi) => {
    if (gi === rowIndex) return;
    g.mgo.forEach((m, i) => others.push([m, g[p.el][i]]));
  });
  plot.append("g").selectAll("circle").data(others).enter().append("circle")
    .attr("cx", d => x(d[0])).attr("cy", d => y(d[1])).attr("r", 3.9)
    .attr("fill", "#d0d0d0").attr("fill-opacity", 0.25)
    .attr("stroke", "#cfcfcf").attr("stroke-width", 1.5);

  // this group's samples: fills, fit dots, then outlines so the outlines stay black
  const own = row.mgo.map((m, i) => [m, row[p.el][i], row.fit[i]]);
  plot.append("g").selectAll("circle").data(own).enter().append("circle")
    .attr("cx", d => x(d[0])).attr("cy", d => y(d[1])).attr("r", 5)
    .attr("fill", "#e4e4e4").attr("fill-opacity", 0.7);
  plot.append("g").selectAll("circle").data(own.filter(d => d[2] !== undefined)).enter().append("circle")
    .attr("cx", d => x(d[0])).attr("cy", d => y(d[1])).attr("r", 2.4)
    .attr("fill", d => color(d[2])).attr("fill-opacity", 0.8);
  plot.append("g").selectAll("circle").data(own).enter().append("circle")
    .attr("cx", d => x(d[0])).attr("cy", d => y(d[1])).attr("r", 5)
    .attr("fill", "none").attr("stroke", "#111").attr("stroke-width", 1.75);

  svg.append("rect").attr("x", p.left).attr("y", p.top)
    .attr("width", p.right - p.left).attr("height", p.bottom - p.top)
    .attr("fill", "none").attr("stroke", "#444").attr("stroke-width", 1.1);

  const xAxis = svg.append("g").attr("transform", `translate(0,${p.bottom})`)
    .call(d3.axisBottom(x).tickValues(xTicks).tickFormat(d3.format("d")).tickSize(4).tickPadding(6));
  const yAxis = svg.append("g").attr("transform", `translate(${p.left},0)`)
    .call(d3.axisLeft(y).tickValues(el.ticks).tickFormat(d3.format(el.fmt)).tickSize(4).tickPadding(5));
  [xAxis, yAxis].forEach(a => {
    a.select(".domain").remove();
    a.selectAll("line").attr("stroke", "#333");
    a.selectAll("text").attr("font-size", 15.5).attr("font-family", "DejaVu Sans").attr("fill", "#222");
  });

  svg.append("text").attr("x", p.lx).attr("y", p.ly).attr("text-anchor", "middle")
    .attr("font-size", 15.3).text("MgO (wt%)");

  const yLabel = svg.append("text").attr("text-anchor", "middle").attr("font-size", 15.3)
    .attr("transform", `translate(${p.ty},${p.tc}) rotate(-90)`);
  el.label.forEach((part, k) => {
    const isSub = part === "2" || part === "3";
    const prevSub = k > 0 && (el.label[k - 1] === "2" || el.label[k - 1] === "3");
    yLabel.append("tspan").attr("font-size", isSub ? 10.5 : 15.3)
      .attr("dy", isSub ? 3 : (prevSub ? -3 : 0)).text(part);
  });

  svg.append("text").attr("class", "letter").attr("x", p.lettX + 15).attr("y", p.lettY)
    .attr("text-anchor", "middle").attr("font-size", 25).text(p.letter);
}

function drawColorbar(row, rowIndex) {
  const b = row.bar;
  const gradId = `rmse-grad-${rowIndex}`;
  const grad = defs.append("linearGradient").attr("id", gradId);
  rainbowStops.forEach((s, i) => grad.append("stop").attr("offset", s).attr("stop-color", rainbowColors[i]));
  svg.append("rect").attr("x", b.x0).attr("y", b.y0)
    .attr("width", b.x1 - b.x0).attr("height", b.y1 - b.y0)
    .attr("fill", `url(#${gradId})`).attr("stroke", "#333").attr("stroke-width", 0.8);
  const scale = d3.scaleLinear().domain([row.vmin, row.vmax]).range([b.x0, b.x1]);
  const axis = svg.append("g").attr("transform", `translate(0,${b.y1})`)
    .call(d3.axisBottom(scale).tickValues(row.ticks).tickFormat(d3.format(row.fmt)).tickSize(4).tickPadding(5));
  axis.select(".domain").remove();
  axis.selectAll("text").attr("font-size", 15).attr("font-family", "DejaVu Sans").attr("fill", "#222");
  axis.selectAll("line").attr("stroke", "#333");
  svg.append("text").attr("x", 559).attr("y", b.labelY).attr("text-anchor", "middle")
    .attr("font-size", 19).text("RMSE");
}

rows.forEach((row, ri) => {
  svg.append("text").attr("class", "title").attr("x", 72).attr("y", row.titleY)
    .attr("font-size", 30.8).text(row.title);
  row.panels.forEach((p, pi) => drawPanel(row, ri, p, pi));
  drawColorbar(row, ri);
});

svg.append("line").attr("x1", 15).attr("x2", 1057).attr("y1", 470).attr("y2", 470)
  .attr("stroke", "#111").attr("stroke-width", 2);
svg.append("line").attr("x1", 22).attr("x2", 1057).attr("y1", 943).attr("y2", 943)
  .attr("stroke", "#111").attr("stroke-width", 2);
</script>
</body>
</html>
